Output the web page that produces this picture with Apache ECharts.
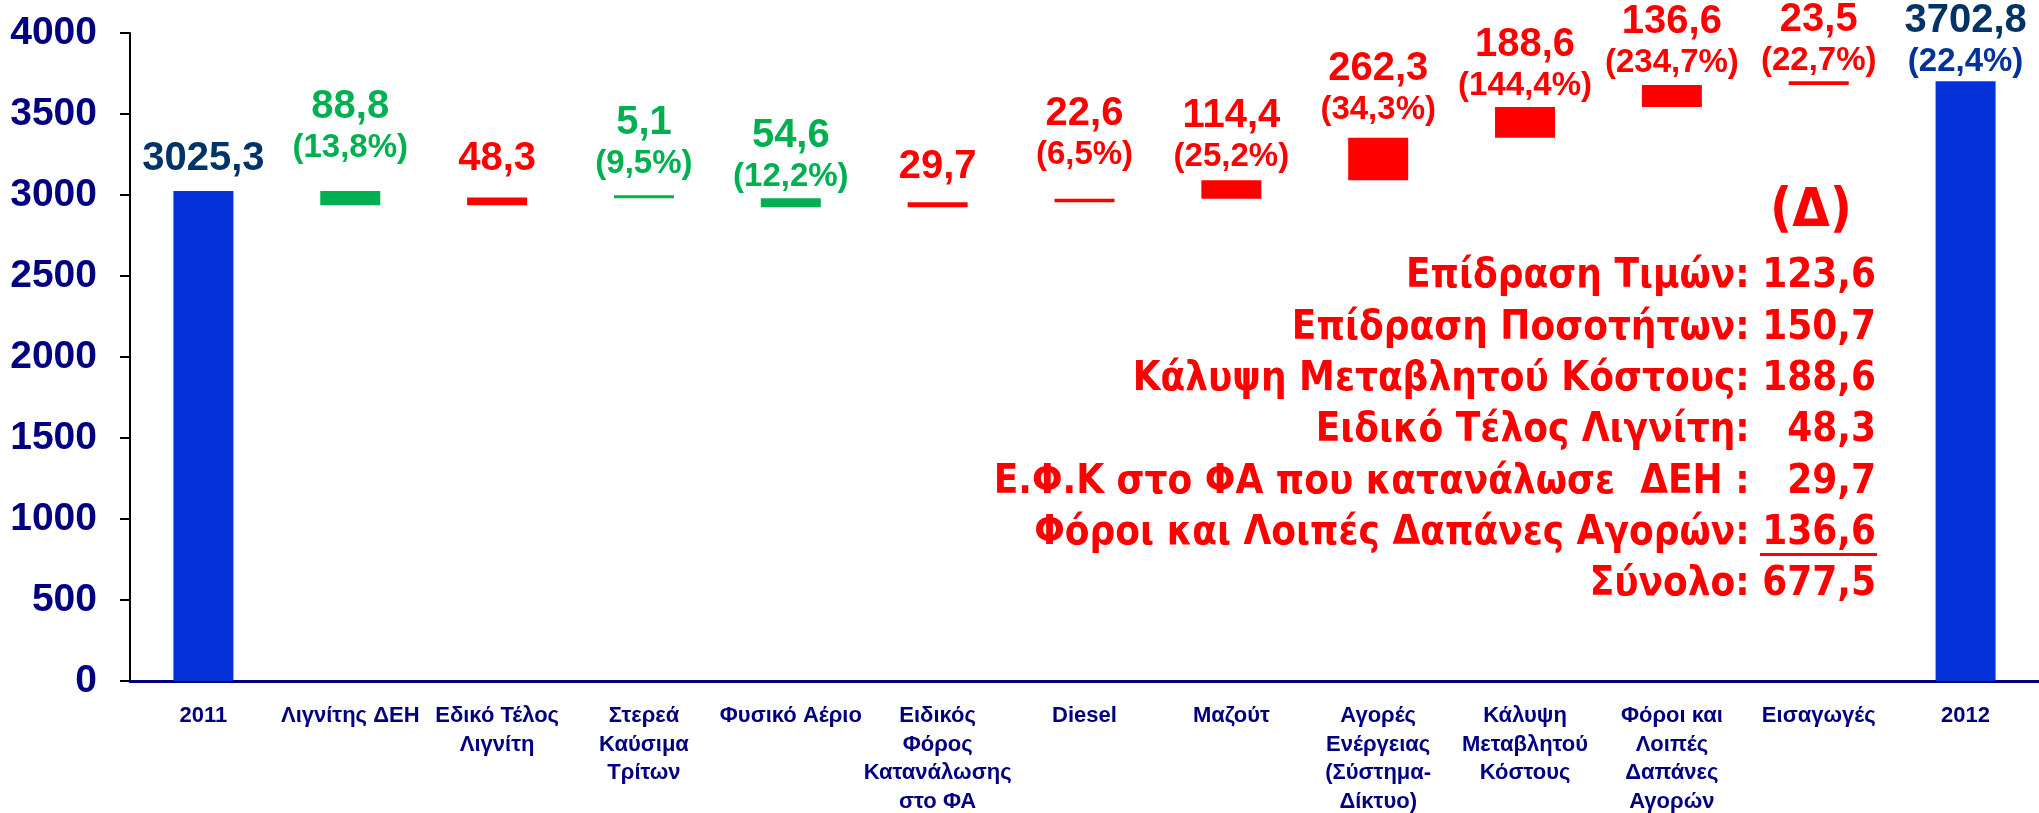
<!DOCTYPE html>
<html>
<head>
    <meta charset="utf-8">
    <title>Μεταβολή κόστους 2011 - 2012</title>
    <script src="https://cdn.jsdelivr.net/npm/echarts@6/dist/echarts.min.js"></script>
    <style>
        html, body { margin: 0; padding: 0; background: #fff; }
        #chart1 { width: 2039px; height: 813px; }
    </style>
</head>
<body>
<div id="chart1"></div>
<script type="text/javascript">
    // κατηγορίες του άξονα x
    var categories = ['2011', 'Λιγνίτης ΔΕΗ', 'Εδικό Τέλος\nΛιγνίτη', 'Στερεά\nΚαύσιμα\nΤρίτων', 'Φυσικό Αέριο',
        'Ειδικός\nΦόρος\nΚατανάλωσης\nστο ΦΑ', 'Diesel', 'Μαζούτ', 'Αγορές\nΕνέργειας\n(Σύστημα-\nΔίκτυο)',
        'Κάλυψη\nΜεταβλητού\nΚόστους', 'Φόροι και\nΛοιπές\nΔαπάνες\nΑγορών', 'Εισαγωγές', '2012'];

    // σύνολα αρχής / τέλους
    var startTotal = 3025.3;
    var endTotal = 3702.8;
    var endPct = '22,4%';

    // μεταβολές (αρνητικό = μείωση, πράσινο)
    var changes = [-88.8, 48.3, -5.1, -54.6, 29.7, 22.6, 114.4, 262.3, 188.6, 136.6, 23.5];
    var changePct = ['13,8%', '', '9,5%', '12,2%', '', '6,5%', '25,2%', '34,3%', '144,4%', '234,7%', '22,7%'];

    // πλαίσιο (Δ)
    var noteTitle = '(Δ)';
    var noteLines = [
        'Επίδραση Τιμών: 123,6',
        'Επίδραση Ποσοτήτων: 150,7',
        'Κάλυψη Μεταβλητού Κόστους: 188,6',
        'Ειδικό Τέλος Λιγνίτη:   48,3',
        'Ε.Φ.Κ στο ΦΑ που κατανάλωσε  ΔΕΗ :   29,7',
        'Φόροι και Λοιπές Δαπάνες Αγορών: 136,6',
        'Σύνολο: 677,5'
    ];

    var yTicks = {min: 0, max: 4000, interval: 500};

    // απόσταση ετικέτας από τη μπάρα (χειροκίνητη τοποθέτηση όπως στο πρωτότυπο)
    var labelGap = [10, 24, 16, 12, 2, 13, 25, 4, 9, 2, 3, 1, 0];

    var BLUE = '#0432d8', GREEN = '#00b050', RED = '#ff0000', NAVY = '#000080', DARK = '#003366';
    var SANS = "'Liberation Sans', Arial, sans-serif";

    function fmt(v) {
        return Math.abs(v).toFixed(1).replace('.', ',');
    }

    // χτίσιμο καταρράκτη
    var baseData = [0];
    var barData = [startTotal];
    var level = startTotal;
    changes.forEach(function (c) {
        baseData.push(Math.min(level, level + c));
        barData.push(Math.abs(c));
        level += c;
    });
    baseData.push(0);
    barData.push(endTotal);

    function barColor(i) {
        if (i === 0 || i === categories.length - 1) return BLUE;
        return changes[i - 1] < 0 ? GREEN : RED;
    }

    var shown = barData.map(function (v, i) {
        return {
            value: v,
            itemStyle: {color: barColor(i)},
            label: {distance: labelGap[i]}
        };
    });

    var myChart1 = echarts.init(document.getElementById('chart1'));

    var option = {
        animation: false,
        grid: {left: 130, right: 0, top: 33, bottom: 132, outerBoundsMode: 'none'},
        xAxis: {
            type: 'category',
            data: categories,
            axisTick: {show: false},
            axisLine: {lineStyle: {color: NAVY, width: 3}},
            axisLabel: {
                interval: 0,
                margin: 21,
                color: NAVY,
                fontFamily: SANS,
                fontWeight: 'bold',
                fontSize: 22,
                lineHeight: 28.5
            }
        },
        yAxis: {
            type: 'value',
            min: yTicks.min,
            max: yTicks.max,
            interval: yTicks.interval,
            splitLine: {show: false},
            axisLine: {show: true, lineStyle: {color: '#000', width: 2}},
            axisTick: {show: true, length: 10, lineStyle: {color: '#000', width: 2}},
            axisLabel: {
                margin: 33,
                color: NAVY,
                fontFamily: SANS,
                fontWeight: 'bold',
                fontSize: 39,
                formatter: function (v) { return String(v); }
            }
        },
        series: [
            {
                name: 'base',
                type: 'bar',
                stack: 'w',
                barWidth: 60,
                silent: true,
                itemStyle: {color: 'transparent'},
                data: baseData
            },
            {
                name: 'delta',
                type: 'bar',
                stack: 'w',
                barWidth: 60,
                barMinHeight: 3,
                data: shown,
                label: {
                    show: true,
                    position: 'top',
                    formatter: function (p) {
                        var i = p.dataIndex;
                        var last = categories.length - 1;
                        if (i === 0) return '{bv|' + fmt(startTotal) + '}';
                        if (i === last) return '{bv|' + fmt(endTotal) + '}\n{bp|(' + endPct + ')}';
                        var c = changes[i - 1];
                        var k = c < 0 ? 'g' : 'r';
                        var s = '{' + k + 'v|' + fmt(c) + '}';
                        if (changePct[i - 1]) s += '\n{' + k + 'p|(' + changePct[i - 1] + ')}';
                        return s;
                    },
                    rich: {
                        bv: {color: DARK, fontFamily: SANS, fontWeight: 'bold', fontSize: 40, lineHeight: 44},
                        bp: {color: '#003399', fontFamily: SANS, fontWeight: 'bold', fontSize: 33, lineHeight: 38},
                        gv: {color: GREEN, fontFamily: SANS, fontWeight: 'bold', fontSize: 40, lineHeight: 44},
                        gp: {color: GREEN, fontFamily: SANS, fontWeight: 'bold', fontSize: 33, lineHeight: 38},
                        rv: {color: RED, fontFamily: SANS, fontWeight: 'bold', fontSize: 40, lineHeight: 44},
                        rp: {color: RED, fontFamily: SANS, fontWeight: 'bold', fontSize: 33, lineHeight: 38}
                    }
                }
            }
        ],
        graphic: []
    };

    // πλαίσιο σχολίων δεξιά
    var noteFont = "bold 40px 'DejaVu Sans Condensed', 'DejaVu Sans', sans-serif";
    option.graphic.push({
        type: 'text', x: 1811, y: 212,
        style: {text: noteTitle, fill: RED, font: "bold 54px 'DejaVu Sans Condensed', sans-serif",
            align: 'center', verticalAlign: 'middle'}
    });
    noteLines.forEach(function (t, i) {
        option.graphic.push({
            type: 'text',
            x: 1876, y: 277 + i * 51.3,
            style: {text: t, fill: RED, font: noteFont, align: 'right', verticalAlign: 'middle'}
        });
    });
    // υπογράμμιση του 136,6
    option.graphic.push({
        type: 'rect',
        shape: {x: 1760, y: 553, width: 117, height: 3},
        style: {fill: RED}
    });

    myChart1.setOption(option);
</script>
</body>
</html>
